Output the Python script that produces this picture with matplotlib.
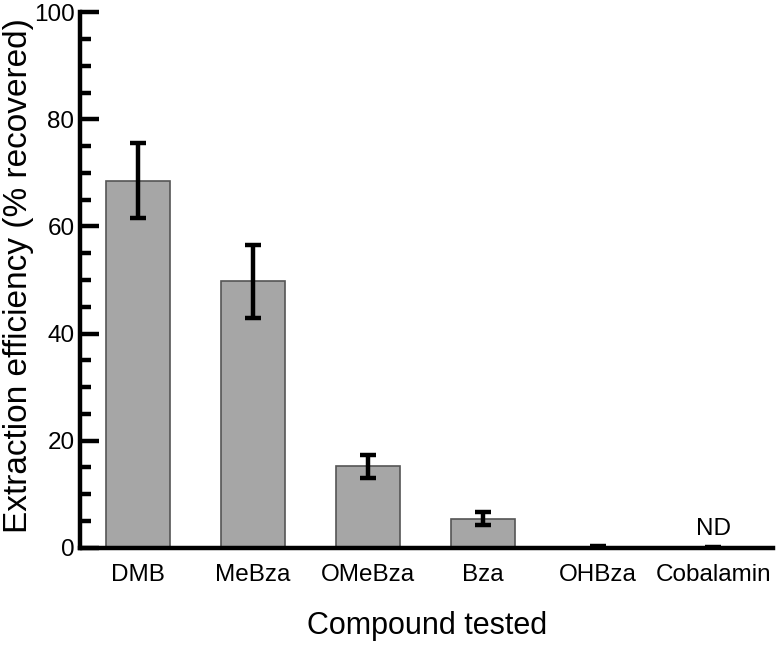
import matplotlib
matplotlib.use("Agg")
import matplotlib.pyplot as plt
from matplotlib.ticker import MultipleLocator

plt.rcParams['font.family'] = ['Liberation Sans', 'DejaVu Sans']

categories = ["DMB", "MeBza", "OMeBza", "Bza", "OHBza", "Cobalamin"]
values = [68.5, 49.8, 15.2, 5.4, 0.2, 0.1]
errors = [7.0, 6.8, 2.2, 1.2, 0.1, 0.1]
annotations = {"Cobalamin": "ND"}

fig = plt.figure(figsize=(7.77, 6.46), dpi=100)
ax = fig.add_axes([0.103, 0.152, 0.892, 0.829])

x = list(range(len(categories)))
ax.bar(x, values, width=0.556, color="#a6a6a6", edgecolor="#555555", linewidth=1.2, zorder=2)
ax.errorbar(x, values, yerr=errors, fmt="none", ecolor="black", elinewidth=3.2,
            capsize=6, capthick=3.2, zorder=3)

for i, c in enumerate(categories):
    if c in annotations:
        ax.text(i, values[i] + 1.3, annotations[c], ha="center", va="bottom", fontsize=17.5)

ax.set_xlim(-0.5, 5.52)
ax.set_ylim(0, 100)
ax.set_xticks(x)
ax.set_xticklabels(categories, fontsize=17.5)
ax.yaxis.set_major_locator(MultipleLocator(20))
ax.yaxis.set_minor_locator(MultipleLocator(5))
ax.tick_params(axis='x', length=0, pad=12)
ax.tick_params(axis='y', which='major', direction='in', length=14, width=3.2, labelsize=17.5, pad=4)
ax.tick_params(axis='y', which='minor', direction='in', length=8, width=3.2)

for s in ['top', 'right']:
    ax.spines[s].set_visible(False)
for s in ['left', 'bottom']:
    ax.spines[s].set_linewidth(3.2)
ax.spines['bottom'].set_zorder(4)

ax.set_ylabel("Extraction efficiency (% recovered)", fontsize=24)
ax.yaxis.set_label_coords(-0.066, 0.509)
ax.set_xlabel("Compound tested", fontsize=22, labelpad=18)

fig.savefig("out.png", dpi=100)
